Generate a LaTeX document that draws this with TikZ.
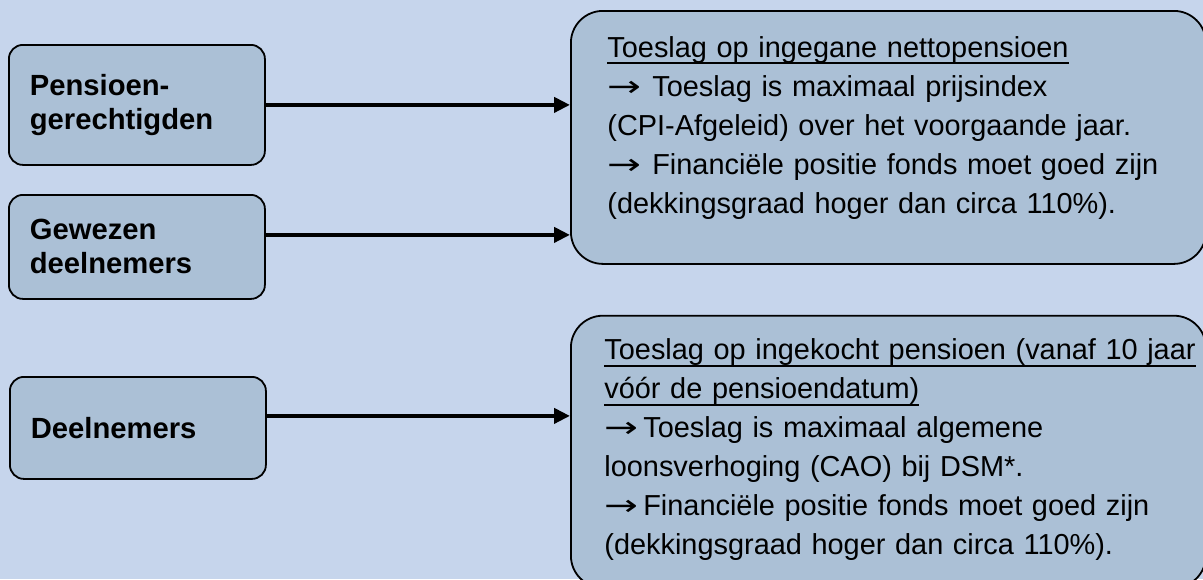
\documentclass[tikz,border=0pt]{standalone}
\usepackage{fontspec}
\setmainfont{Liberation Sans}
\newfontfamily\pijlfont{DejaVu Sans}
\usepackage{tikz}
\usetikzlibrary{arrows.meta, positioning}
\definecolor{achtergrondblauw}{RGB}{198, 213, 236}
\definecolor{vakblauw}{RGB}{171, 192, 214}
\newcommand{\onderstreep}[1]{\leavevmode\setbox0=\hbox{#1}%
    \rlap{\vrule height -2.5pt depth 3.5pt width \wd0}\box0}
\newcommand{\pijlteken}[1]{\scalebox{1.4}[1]{\pijlfont →}\hspace{#1}}

\begin{document}
\begin{tikzpicture}[x=0.5pt, y=-0.5pt,
    groep/.style={draw, line width=0.9pt, rounded corners=7pt, fill=vakblauw,
                  anchor=north west, text width=107pt, inner xsep=10.5pt,
                  align=left, font=\fontsize{14.6}{17}\selectfont\bfseries},
    regel/.style={draw, line width=0.9pt, rounded corners=16pt, fill=vakblauw,
                  anchor=north west, minimum width=317.5pt},
    regeltekst/.style={anchor=base west, inner sep=0pt, text width=300pt,
                  align=left, font=\fontsize{14.45}{19.5}\selectfont},
    pijl/.style={-{Triangle[length=8pt, width=7.5pt]}, line width=2.3pt}
]
    \useasboundingbox (0,0) rectangle (1203,579);
    \clip (0,0) rectangle (1203,579);
    \fill[achtergrondblauw] (0,0) rectangle (1203,579);

    % wie krijgt toeslag
    \node[groep, minimum height=60pt] (pensioen) at (8,44) {Pensioen-\\gerechtigden};
    \node[groep, minimum height=52pt] (gewezen) at (8,194) {Gewezen\\deelnemers};
    \node[groep, minimum height=51pt] (deelnemers) at (9,376) {Deelnemers};

    % regels
    \node[regel, minimum height=126.5pt] (netto) at (570,10) {};
    \node[regeltekst] (nettotekst) at ([xshift=18.5pt, yshift=-23.5pt]netto.north west)
        {\onderstreep{Toeslag op ingegane nettopensioen}\\
         \pijlteken{5.5pt}Toeslag is maximaal prijsindex\\
         (CPI-Afgeleid) over het voorgaande jaar.\\
         \pijlteken{5.5pt}Financiële positie fonds moet goed zijn\\
         (dekkingsgraad hoger dan circa 110\%).};

    \node[regel, minimum height=136pt, below=25pt of netto] (ingekocht) {};
    \node[regeltekst] (ingekochttekst) at ([xshift=17pt, yshift=-22.5pt]ingekocht.north west)
        {\onderstreep{Toeslag op ingekocht pensioen (vanaf 10 jaar}\\
         \onderstreep{vóór de pensioendatum)}\\
         \pijlteken{2.5pt}Toeslag is maximaal algemene\\
         loonsverhoging (CAO) bij DSM*.\\
         \pijlteken{2.5pt}Financiële positie fonds moet goed zijn\\
         (dekkingsgraad hoger dan circa 110\%).};

    \coordinate (gewezenuit) at ([yshift=6pt]gewezen.east);
    \coordinate (deelnemersuit) at ([yshift=6pt]deelnemers.east);

    \draw[pijl] (pensioen.east) -- (pensioen.east -| netto.west);
    \draw[pijl] (gewezenuit) -- (gewezenuit -| netto.west);
    \draw[pijl] (deelnemersuit) -- (deelnemersuit -| ingekocht.west);
\end{tikzpicture}
\end{document}
